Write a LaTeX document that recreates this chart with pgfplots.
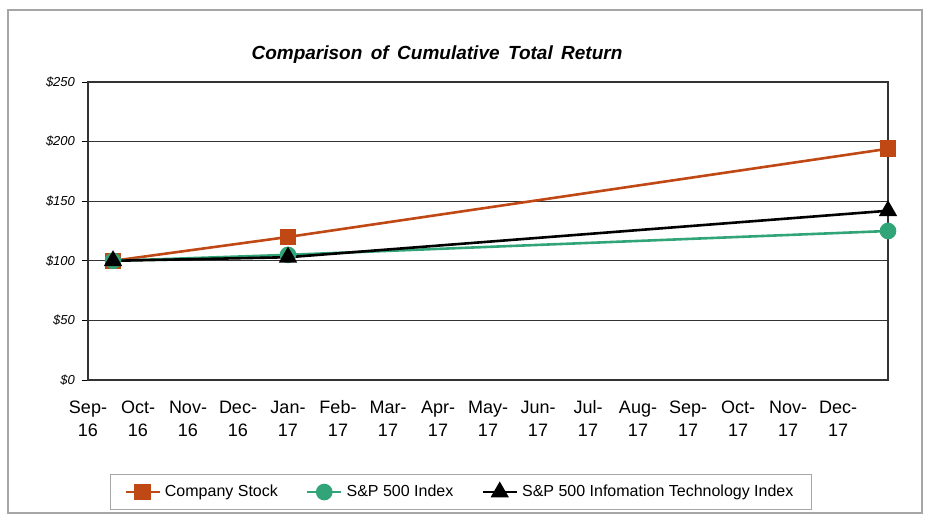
\documentclass[border=0pt]{standalone}
\usepackage{pgfplots}
\pgfplotsset{compat=1.18}
\usepackage{fontspec}
\setmainfont{Liberation Sans}
\definecolor{cstock}{RGB}{192,72,20}
\definecolor{spgreen}{RGB}{50,165,120}
\newcommand\tl[2]{\strut #1-\\#2}
\begin{document}
\begin{tikzpicture}
\path (0,0) rectangle (462.5pt,-257pt);
\draw[gray!70, line width=0.6pt] (4pt,-5pt) rectangle (461pt,-256.5pt);
\node[font=\bfseries\itshape\fontsize{9.5}{11}\selectfont] at (218.5pt,-27.5pt) {Comparison\, of\, Cumulative\, Total\, Return};
\begin{axis}[
  at={(44pt,-190pt)}, anchor=south west,
  scale only axis, width=400pt, height=149pt,
  xmin=0, xmax=16, ymin=0, ymax=250,
  xtick={0,...,15},
  xticklabels={{\tl{Sep}{16}},{\tl{Oct}{16}},{\tl{Nov}{16}},{\tl{Dec}{16}},{\tl{Jan}{17}},{\tl{Feb}{17}},{\tl{Mar}{17}},{\tl{Apr}{17}},{\tl{May}{17}},{\tl{Jun}{17}},{\tl{Jul}{17}},{\tl{Aug}{17}},{\tl{Sep}{17}},{\tl{Oct}{17}},{\tl{Nov}{17}},{\tl{Dec}{17}}},
  xticklabel style={align=center, font=\fontsize{9}{11.5}\selectfont, yshift=-2pt},
  ytick={0,50,100,150,200,250},
  yticklabels={\$0,\$50,\$100,\$150,\$200,\$250},
  yticklabel style={font=\itshape\fontsize{6.5}{8}\selectfont},
  ytick pos=left,
  tick align=outside, major tick length=3pt,
  xtick style={draw=none},
  ytick style={black, line width=0.5pt},
  ymajorgrids, grid style={black!80, line width=0.5pt},
  axis line style={black!80, line width=0.8pt},
  /pgf/number format/assume math mode=true,
  legend columns=3,
  legend style={at={(0.466,-0.376)}, anchor=center, draw=gray!70, line width=0.6pt,
    font=\fontsize{8}{9.5}\selectfont, inner xsep=7pt, inner ysep=3pt,
    /tikz/every even column/.append style={column sep=12pt}},
  legend cell align=left,
  clip=false,
]
\addplot[cstock, line width=1.3pt, mark=square*, mark size=3.5pt, mark options={fill=cstock}]
  coordinates {(0.5,100) (4,120) (16,194)};
\addlegendentry{Company Stock}
\addplot[spgreen, line width=1.3pt, mark=*, mark size=3.5pt, mark options={fill=spgreen}]
  coordinates {(0.5,100) (4,105) (16,125)};
\addlegendentry{S\&P 500 Index}
\addplot[black, line width=1.3pt, mark=triangle*, mark size=4pt, mark options={fill=black}]
  coordinates {(0.5,100) (4,103) (16,142)};
\addlegendentry{S\&P 500 Infomation Technology Index}
\end{axis}
\end{tikzpicture}
\end{document}
